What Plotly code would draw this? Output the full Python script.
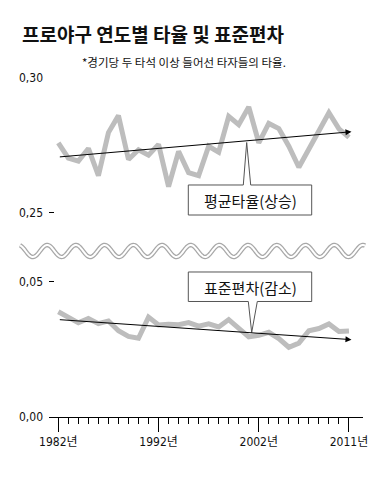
import numpy as np
import plotly.graph_objects as go

# ---- data ----
years = list(range(1982, 2012))
avg_values = [0.2759, 0.2702, 0.2691, 0.2738, 0.2637, 0.2797, 0.2860, 0.2697, 0.2733, 0.2713,
              0.2753, 0.2596, 0.2727, 0.2648, 0.2637, 0.2746, 0.2724, 0.2857, 0.2826, 0.2892,
              0.2759, 0.2831, 0.2812, 0.2746, 0.2668, 0.2734, 0.2801, 0.2871, 0.2811, 0.2779]
std_values = [0.0388, 0.0366, 0.0347, 0.0363, 0.0344, 0.0354, 0.0318, 0.0297, 0.0290, 0.0368,
              0.0339, 0.0342, 0.0340, 0.0348, 0.0335, 0.0343, 0.0332, 0.0359, 0.0326, 0.0295,
              0.0301, 0.0312, 0.0289, 0.0257, 0.0272, 0.0318, 0.0326, 0.0343, 0.0315, 0.0317]
avg_trend_x = [1982, 2011.25]
avg_trend_y = [0.2706, 0.2800]
std_trend_x = [1982, 2011.25]
std_trend_y = [0.0359, 0.0285]
x_tickvals = [1982, 1992, 2002, 2011]
x_ticktext = ["1982년", "1992년", "2002년", "2011년"]
top_tickvals = [0.25, 0.30]
top_ticktext = ["0,25", "0,30"]
bot_tickvals = [0.0, 0.05]
bot_ticktext = ["0,00", "0,05"]
title_text = "프로야구 연도별 타율 및 표준편차"
subtitle_text = "*경기당 두 타석 이상 들어선 타자들의 타율."
avg_label = "평균타율(상승)"
std_label = "표준편차(감소)"

# ---- layout geometry (screen pixels; page body has an 8px margin) ----
OFF = 8
W, H = 380, 479
PL, PR, PT, PB = 49, 363, 78, 417   # plot area on screen
PW, PH = PR - PL, PB - PT


def px(x):
    return (x - PL) / PW


def py(y):
    return (PB - y) / PH


NUM_FONT = "DejaVu Sans Condensed, Liberation Sans Narrow, Noto Sans CJK KR, sans-serif"
KR_FONT = "Noto Sans CJK KR, sans-serif"
GRAY = "#bdbdbd"

fig = go.Figure()
fig.add_trace(go.Scatter(x=years, y=avg_values, xaxis="x", yaxis="y2", mode="lines",
                         line=dict(color=GRAY, width=5), hoverinfo="skip", showlegend=False))
fig.add_trace(go.Scatter(x=years, y=std_values, xaxis="x", yaxis="y", mode="lines",
                         line=dict(color=GRAY, width=5), hoverinfo="skip", showlegend=False))

annotations = []
# trend arrows
for tx, ty, yref in [(avg_trend_x, avg_trend_y, "y2"), (std_trend_x, std_trend_y, "y")]:
    annotations.append(dict(x=tx[1], y=ty[1], ax=tx[0], ay=ty[0], xref="x", yref=yref,
                            axref="x", ayref=yref, text="", showarrow=True, arrowhead=2,
                            arrowsize=1.2, arrowwidth=1, arrowcolor="#000"))

# title / subtitle
annotations.append(dict(x=px(20), y=py(34), xref="paper", yref="paper", xanchor="left",
                        yanchor="middle", text="<b>" + title_text + "</b>", showarrow=False,
                        font=dict(family=KR_FONT, size=19, color="#111", weight=900)))
annotations.append(dict(x=px(80), y=py(62), xref="paper", yref="paper", xanchor="left",
                        yanchor="middle", text=subtitle_text, showarrow=False,
                        font=dict(family=KR_FONT, size=11.5, color="#111")))

shapes = []
bx0, bx1 = 188.3, 311.7
# top callout (pointer up)
t_top, t_bot = 185, 215
p = [(bx0, t_top), (243.3, t_top), (246.7, 142.5), (250.7, t_top), (bx1, t_top), (bx1, t_bot), (bx0, t_bot)]
path = "M " + " L ".join(f"{px(a):.5f},{py(b):.5f}" for a, b in p) + " Z"
shapes.append(dict(type="path", path=path, xref="paper", yref="paper", fillcolor="white",
                   line=dict(color="#555", width=1), layer="above"))
annotations.append(dict(x=px((bx0 + bx1) / 2), y=py(200), xref="paper", yref="paper",
                        text=avg_label, showarrow=False,
                        font=dict(family=KR_FONT, size=15, color="#111")))
# bottom callout (pointer down)
s_top, s_bot = 272, 301.5
p = [(bx0, s_top), (bx1, s_top), (bx1, s_bot), (257.3, s_bot), (251.7, 332.5), (248.3, s_bot), (bx0, s_bot)]
path = "M " + " L ".join(f"{px(a):.5f},{py(b):.5f}" for a, b in p) + " Z"
shapes.append(dict(type="path", path=path, xref="paper", yref="paper", fillcolor="white",
                   line=dict(color="#555", width=1), layer="above"))
annotations.append(dict(x=px((bx0 + bx1) / 2), y=py(287), xref="paper", yref="paper",
                        text=std_label, showarrow=False,
                        font=dict(family=KR_FONT, size=15, color="#111")))

# wavy break mark (decoration)
wx = np.linspace(20, 365, 400)
wy = 251 - 6 * np.cos(2 * np.pi * (wx - 18.5) / 28.7)
wpath = "M " + " L ".join(f"{px(a):.5f},{py(b):.5f}" for a, b in zip(wx, wy))
shapes.append(dict(type="path", path=wpath, xref="paper", yref="paper",
                   line=dict(color="#a8a8a8", width=4.5), layer="above"))
shapes.append(dict(type="path", path=wpath, xref="paper", yref="paper",
                   line=dict(color="white", width=2), layer="above"))

fig.update_layout(
    width=W - OFF, height=H - OFF,
    margin=dict(l=PL - OFF, r=W - PR, t=PT - OFF, b=H - PB),
    paper_bgcolor="white", plot_bgcolor="white",
    showlegend=False,
    xaxis=dict(range=[1981.07, 2012.4], anchor="y", showgrid=False, zeroline=False,
               showline=True, linecolor="#000", linewidth=1,
               tickmode="array", tickvals=x_tickvals, ticktext=x_ticktext,
               ticks="outside", ticklen=14, tickwidth=1, tickcolor="#000",
               minor=dict(tickmode="array", tickvals=years, ticks="outside", ticklen=6,
                          tickwidth=1, tickcolor="#000"),
               tickfont=dict(family=NUM_FONT, size=12, color="#111")),
    yaxis=dict(domain=[0, py(265)], range=[0, (PB - 265) / 2714], anchor="x",
               showgrid=False, zeroline=False, showline=False,
               tickmode="array", tickvals=bot_tickvals, ticktext=bot_ticktext,
               ticks="inside", ticklen=5, tickwidth=1, tickcolor="#000",
               ticklabelstandoff=5,
               tickfont=dict(family=NUM_FONT, size=12, color="#111")),
    yaxis2=dict(domain=[py(222), 1], range=[0.30 - (222 - PT) / 2688, 0.30], anchor="x",
                showgrid=False, zeroline=False, showline=False,
                tickmode="array", tickvals=top_tickvals, ticktext=top_ticktext,
                ticks="inside", ticklen=5, tickwidth=1, tickcolor="#000",
                ticklabelstandoff=5,
                tickfont=dict(family=NUM_FONT, size=12, color="#111")),
    annotations=annotations,
    shapes=shapes,
)

fig.write_html("out.html")
